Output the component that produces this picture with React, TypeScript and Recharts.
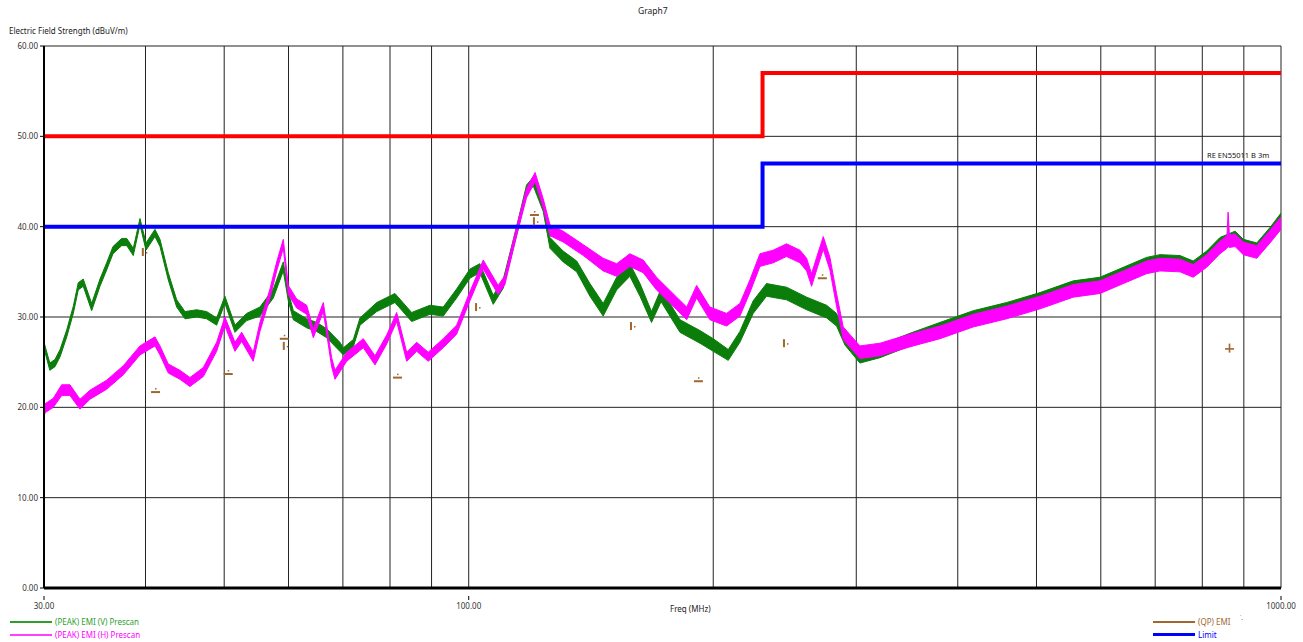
import { Area, CartesianGrid, ComposedChart, Line, Scatter, XAxis, YAxis } from "recharts";

// frequency (MHz), lower edge, upper edge of the noisy trace (dBuV/m)
const peakV: [number, number, number][] = [
	[30.0, 26.5, 27.2], [30.5, 24.1, 24.9], [30.95, 24.5, 25.3], [31.4, 25.6, 26.4], [32.0, 27.8, 28.6],
	[32.6, 30.4, 31.2], [33.06, 33.0, 33.8], [33.53, 33.4, 34.2], [34.34, 30.7, 31.5], [35.16, 33.4, 34.2],
	[35.83, 35.2, 36.0], [36.48, 37.0, 37.8], [37.39, 37.9, 38.7], [37.93, 37.9, 38.7], [38.64, 36.8, 37.6],
	[39.38, 40.2, 40.9], [40.06, 37.4, 38.2], [41.09, 38.9, 39.7], [41.68, 37.8, 38.6], [42.67, 34.1, 34.9],
	[43.7, 31.1, 31.9], [44.74, 29.8, 30.6], [46.25, 30.0, 30.8], [47.57, 29.8, 30.6], [48.94, 29.1, 29.9],
	[50.1, 31.5, 32.3], [51.55, 28.3, 29.1], [53.29, 29.6, 30.4], [55.33, 30.1, 31.1], [57.47, 32.1, 33.1],
	[59.12, 35.1, 36.1], [59.96, 31.8, 32.8], [60.82, 29.7, 30.7], [63.17, 28.8, 29.8], [64.99, 28.4, 29.4],
	[66.86, 27.7, 28.7], [69.4, 26.2, 27.2], [70.1, 25.8, 26.6], [72.1, 26.7, 27.5], [73.48, 29.1, 29.9],
	[77.04, 30.6, 31.6], [81.13, 31.6, 32.6], [85.06, 29.5, 30.5], [89.59, 30.3, 31.3], [93.03, 30.1, 31.1],
	[96.63, 32.1, 33.1], [100.34, 34.3, 35.3], [103.2, 34.9, 35.9], [107.2, 31.4, 32.4], [110.3, 33.2, 34.2],
	[114.6, 39.1, 40.1], [117.8, 43.6, 44.6], [120.1, 44.5, 45.5], [123.5, 41.7, 42.7], [125.9, 37.6, 38.8],
	[130.7, 36.1, 37.3], [135.8, 35.0, 36.2], [141.0, 32.3, 33.7], [146.4, 30.1, 31.5], [152.1, 33.0, 34.4],
	[157.9, 34.5, 35.9], [162.5, 32.3, 33.7], [167.9, 29.4, 30.6], [172.5, 31.7, 33.1], [182.0, 28.3, 29.7],
	[192.6, 27.1, 28.5], [200.0, 26.2, 27.6], [208.7, 25.2, 26.4], [215.7, 27.2, 28.4], [224.0, 30.4, 31.8],
	[232.6, 32.3, 33.7], [246.2, 31.9, 33.3], [260.6, 30.8, 32.2], [275.8, 29.9, 31.3], [283.7, 29.0, 30.4],
	[290.5, 26.9, 28.1], [303.1, 24.9, 26.3], [320.9, 25.5, 26.9], [349.4, 26.8, 28.2], [380.4, 28.0, 29.4],
	[418.0, 29.3, 30.7], [459.4, 30.2, 31.6], [505.0, 31.3, 32.7], [555.0, 32.6, 34.0], [598.6, 33.0, 34.4],
	[639.5, 34.1, 35.5], [683.2, 35.2, 36.6], [709.6, 35.5, 36.9], [750.9, 35.4, 36.8], [779.7, 34.8, 36.2],
	[810.0, 35.9, 37.3], [841.1, 37.4, 38.8], [878.0, 38.1, 39.5], [898.6, 37.2, 38.6], [933.6, 36.8, 38.2],
	[969.3, 38.5, 39.9], [1000, 40.1, 41.5],
];

const peakH: [number, number, number][] = [
	[30.0, 18.9, 19.8], [30.09, 19.4, 20.4], [30.8, 20.0, 21.0], [31.54, 21.3, 22.5], [32.29, 21.3, 22.5],
	[33.22, 19.8, 20.9], [34.18, 20.9, 21.9], [35.83, 22.0, 23.0], [37.56, 23.6, 24.6], [39.38, 25.8, 26.8],
	[41.09, 26.8, 27.8], [41.68, 25.8, 26.8], [42.67, 23.8, 24.8], [44.11, 23.1, 24.1], [45.37, 22.3, 23.3],
	[47.12, 23.4, 24.4], [48.94, 26.2, 27.2], [50.1, 29.0, 30.0], [51.55, 26.2, 27.2], [52.54, 27.3, 28.3],
	[54.29, 25.1, 26.1], [55.33, 28.4, 29.4], [56.93, 32.1, 33.1], [58.02, 35.1, 36.1], [59.12, 37.6, 38.6],
	[59.96, 32.5, 33.5], [61.4, 31.0, 32.0], [63.17, 30.3, 31.3], [64.37, 27.7, 28.7], [66.22, 30.6, 31.6],
	[67.8, 24.5, 25.5], [68.45, 23.1, 24.1], [70.76, 25.1, 26.1], [74.17, 26.6, 27.6], [76.67, 24.7, 25.7],
	[79.25, 27.0, 28.0], [81.53, 29.5, 30.5], [83.87, 25.1, 26.1], [86.28, 26.2, 27.2], [89.16, 25.1, 26.1],
	[93.03, 26.6, 27.6], [96.63, 28.1, 29.1], [100.34, 31.8, 32.8], [104.2, 35.3, 36.3], [108.7, 32.5, 33.5],
	[110.8, 33.6, 34.6], [114.6, 39.1, 40.1], [117.8, 43.2, 44.2], [120.7, 45.0, 46.0], [123.5, 42.1, 43.1],
	[125.9, 39.0, 40.2], [130.7, 38.3, 39.5], [138.4, 36.8, 38.0], [146.4, 35.1, 36.5], [152.1, 34.5, 35.9],
	[157.9, 35.6, 37.0], [164.0, 34.9, 36.3], [170.3, 33.0, 34.4], [180.3, 30.8, 32.2], [185.5, 29.7, 31.1],
	[190.8, 32.1, 33.5], [198.1, 29.7, 31.1], [207.7, 29.0, 30.4], [215.7, 30.1, 31.5], [221.9, 32.7, 34.1],
	[228.3, 35.6, 37.0], [237.1, 36.0, 37.4], [246.2, 36.7, 38.1], [255.7, 36.0, 37.4], [260.6, 35.1, 36.5],
	[264.3, 33.4, 34.8], [268.1, 35.2, 36.6], [273.2, 37.5, 38.9], [278.4, 35.2, 36.6], [283.7, 31.2, 32.6],
	[289.1, 27.5, 28.9], [303.1, 25.4, 26.8], [320.9, 25.7, 27.1], [349.4, 26.7, 28.1], [380.4, 27.6, 29.0],
	[418.0, 28.9, 30.3], [459.4, 29.8, 31.2], [505.0, 30.9, 32.3], [555.0, 32.2, 33.6], [598.6, 32.6, 34.0],
	[639.5, 33.7, 35.1], [683.2, 34.8, 36.2], [709.6, 35.1, 36.5], [750.9, 35.0, 36.4], [779.7, 34.4, 35.8],
	[810.0, 35.5, 36.9], [841.1, 37.0, 38.4], [858.0, 37.6, 39.0], [860.8, 37.8, 41.6], [864.0, 37.7, 39.1],
	[878.0, 37.8, 39.2], [898.6, 36.9, 38.3], [933.6, 36.5, 37.9], [969.3, 38.2, 39.6], [1000, 39.7, 41.1],
];

// QP measurement marks: freq, level, glyph (v = bar, h = dash, c = cross)
const qpPoints: [number, number, string][] = [
	[39.7, 37.2, "v"], [41.1, 21.8, "h"], [50.5, 23.8, "h"], [59.2, 27.7, "h"], [59.2, 26.8, "v"],
	[81.6, 23.4, "h"], [102.1, 31.1, "v"], [120.3, 41.4, "h"], [120.3, 40.6, "v"], [158.4, 29.0, "v"],
	[191.5, 23.0, "h"], [244.4, 27.1, "v"], [272.1, 34.4, "h"], [863, 26.5, "c"],
];

const upperLimit: [number, number][] = [[30, 50], [230, 50], [230, 57], [1000, 57]];
const classBLimit: [number, number][] = [[30, 40], [230, 40], [230, 47], [1000, 47]];

const xTicks = [30, 40, 50, 60, 70, 80, 90, 100, 200, 300, 400, 500, 600, 700, 800, 900, 1000];
const xLabeled = [30, 100, 1000];
const yTicks = [0, 10, 20, 30, 40, 50, 60];

const FONT = "'Noto Sans', 'Open Sans', sans-serif";
const BROWN = "#a0672e";

const toBand = (rows: [number, number, number][]) => rows.map(([f, lo, hi]) => ({ f, band: [lo, hi] }));
const toLine = (rows: [number, number][]) => rows.map(([f, v]) => ({ f, v }));

function FreqTick(props: any) {
	const { x, y, payload } = props;
	if (!xLabeled.includes(payload.value)) return null;
	return (
		<g>
			<line x1={x} x2={x} y1={y} y2={y + 4} stroke="#000" strokeWidth={1} />
			<text x={x} y={y + 13} textAnchor="middle" fontSize={8} fill="#333" fontFamily={FONT}>
				{payload.value.toFixed(2)}
			</text>
		</g>
	);
}

function QpMark(props: any) {
	const { cx, cy, payload } = props;
	if (cx == null || cy == null) return null;
	if (payload.mark === "v") {
		return (
			<g>
				<rect x={cx - 1} y={cy - 4} width={2} height={8} fill={BROWN} />
				<rect x={cx + 3} y={cy} width={1.5} height={1.5} fill={BROWN} />
			</g>
		);
	}
	if (payload.mark === "h") {
		return (
			<g>
				<rect x={cx - 4} y={cy} width={9} height={2} fill={BROWN} />
				<rect x={cx} y={cy - 3} width={1.5} height={1.5} fill={BROWN} />
			</g>
		);
	}
	return (
		<g>
			<rect x={cx - 4} y={cy - 0.5} width={9} height={1.6} fill={BROWN} />
			<rect x={cx - 0.3} y={cy - 5} width={1.6} height={9} fill={BROWN} />
		</g>
	);
}

const text = (left: number, top: number, color = "#222", size = 8): React.CSSProperties => ({
	position: "absolute",
	left,
	top,
	color,
	fontSize: size,
	fontFamily: FONT,
	whiteSpace: "nowrap",
	lineHeight: 1,
});

const swatch = (left: number, top: number, color: string, h: number): React.CSSProperties => ({
	position: "absolute",
	left,
	top,
	width: 42,
	height: h,
	background: color,
});

export default function App() {
	const qpData = qpPoints.map(([f, v, mark]) => ({ f, v, mark }));

	return (
		<div style={{ position: "fixed", left: 0, top: 0, width: 1303, height: 642, background: "#fff" }}>
			<ComposedChart width={1303} height={642} margin={{ top: 46, right: 22, bottom: 0, left: 0 }}>
				<CartesianGrid stroke="#222" strokeWidth={1} />
				<XAxis
					type="number"
					dataKey="f"
					scale="log"
					domain={[30, 1000]}
					ticks={xTicks}
					allowDataOverflow
					height={54}
					tickLine={false}
					tick={<FreqTick />}
					axisLine={{ stroke: "#000", strokeWidth: 3 }}
				/>
				<YAxis
					type="number"
					domain={[0, 60]}
					ticks={yTicks}
					width={44}
					tickSize={4}
					tickLine={{ stroke: "#000" }}
					axisLine={{ stroke: "#000", strokeWidth: 2 }}
					tick={{ fontSize: 8, fill: "#333", fontFamily: FONT }}
					tickFormatter={(v) => v.toFixed(2)}
				/>
				<Line data={toLine(upperLimit)} dataKey="v" type="linear" stroke="#ff0000" strokeWidth={4} dot={false} isAnimationActive={false} />
				<Line data={toLine(classBLimit)} dataKey="v" type="linear" stroke="#0000ff" strokeWidth={4} dot={false} isAnimationActive={false} />
				<Area data={toBand(peakV)} dataKey="band" type="linear" stroke="#0b7d0b" strokeWidth={1} fill="#0b7d0b" fillOpacity={1} dot={false} activeDot={false} isAnimationActive={false} />
				<Area data={toBand(peakH)} dataKey="band" type="linear" stroke="#ff00ff" strokeWidth={1} fill="#ff00ff" fillOpacity={1} dot={false} activeDot={false} isAnimationActive={false} />
				<Scatter data={qpData} dataKey="v" shape={<QpMark />} isAnimationActive={false} />
			</ComposedChart>

			<div style={{ ...text(638, 7), fontSize: 8.5 }}>Graph7</div>
			<div style={text(9, 27)}>Electric Field Strength (dBuV/m)</div>
			<div style={text(670, 605)}>Freq (MHz)</div>
			<div style={text(1207, 152, "#111", 7.5)}>RE EN55011 B 3m</div>

			<div style={swatch(10, 621, "#2e9e2e", 1.5)} />
			<div style={text(55, 618, "#2e9e2e")}>(PEAK) EMI (V) Prescan</div>
			<div style={swatch(10, 634, "#ff40ff", 1.5)} />
			<div style={text(55, 631, "#ff00ff")}>(PEAK) EMI (H) Prescan</div>

			<div style={swatch(1153, 621, BROWN, 1.5)} />
			<div style={text(1198, 618, BROWN)}>(QP) EMI</div>
			<div style={text(1240, 614, BROWN, 7)}>˙.</div>
			<div style={swatch(1153, 633, "#0000ff", 3)} />
			<div style={text(1198, 631, "#0000ff")}>Limit</div>
		</div>
	);
}
